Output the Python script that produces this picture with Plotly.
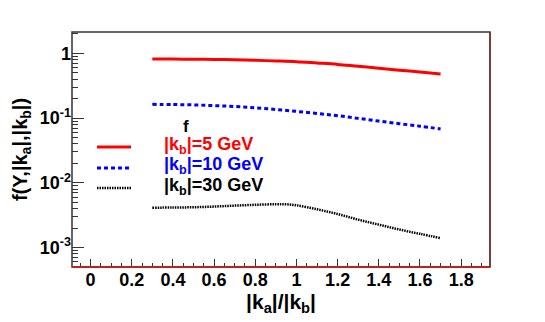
import plotly.graph_objects as go

x_vals = [0.3, 0.4, 0.5, 0.6, 0.7, 0.8, 0.9, 1.0, 1.1, 1.2, 1.3, 1.4, 1.5, 1.6, 1.7]
f_kb5 = [0.817, 0.815, 0.812, 0.806, 0.795, 0.78, 0.765, 0.745, 0.71, 0.675, 0.63, 0.59, 0.55, 0.515, 0.48]
f_kb10 = [0.163, 0.162, 0.160, 0.156, 0.151, 0.144, 0.136, 0.127, 0.118, 0.109, 0.099, 0.090, 0.082, 0.075, 0.068]
x_kb30 = [0.3, 0.4, 0.5, 0.6, 0.7, 0.8, 0.9, 0.95, 1.0, 1.1, 1.2, 1.3, 1.4, 1.5, 1.6, 1.7]
f_kb30 = [0.00414, 0.00415, 0.0042, 0.0043, 0.00445, 0.00458, 0.00468, 0.00466, 0.0045, 0.0039, 0.0033, 0.0027, 0.00226, 0.0019, 0.00163, 0.0014]

legend_labels = ["|k<sub>b</sub>|=5 GeV", "|k<sub>b</sub>|=10 GeV", "|k<sub>b</sub>|=30 GeV"]
colors = ["#ff0000", "#0000ff", "#000000"]
dashes = ["solid", "4px,3px", "1.5px,1px"]
widths = [3, 3, 2.5]

x_ticks = [0, 0.2, 0.4, 0.6, 0.8, 1, 1.2, 1.4, 1.6, 1.8]
x_ticktext = ["0", "0.2", "0.4", "0.6", "0.8", "1", "1.2", "1.4", "1.6", "1.8"]
y_ticks = [1, 0.1, 0.01, 0.001]
y_ticktext = ["1", "10<sup>-1</sup>", "10<sup>-2</sup>", "10<sup>-3</sup>"]
y_minor = [m * 10.0 ** e for e in range(-4, 1) for m in range(2, 10)]

FONT = "Liberation Sans, Arial, sans-serif"

fig = go.Figure()
series = [(x_vals, f_kb5), (x_vals, f_kb10), (x_kb30, f_kb30)]
for (xs, ys), c, d, w, name in zip(series, colors, dashes, widths, legend_labels):
    fig.add_trace(go.Scatter(x=xs, y=ys, mode="lines", name=name,
                             line=dict(color=c, dash=d, width=w, shape="spline", smoothing=1.0),
                             showlegend=False))

# page has an 8px body margin; layout is sized so the plot area lands where the reference has it
OFF = 8
W, H = 537, 314
L, R, T, B = 64, 55, 24, 55
PW, PH = W - L - R, H - T - B


def px(xp):
    return (xp - OFF - L) / PW


def py(yp):
    return (H - B - (yp - OFF)) / PH


leg_y = [147, 168, 188]
for ly, c, d, w, name in zip(leg_y, colors, dashes, widths, legend_labels):
    fig.add_shape(type="line", xref="paper", yref="paper",
                  x0=px(97), x1=px(131), y0=py(ly), y1=py(ly),
                  line=dict(color=c, dash=d, width=w))
    fig.add_annotation(xref="paper", yref="paper", x=px(162), y=py(ly - 2),
                       text=name, showarrow=False, xanchor="left", yanchor="middle",
                       font=dict(family=FONT, size=18, color=c, weight="bold"))

fig.add_annotation(xref="paper", yref="paper", x=px(186), y=py(126),
                   text="f", showarrow=False, xanchor="center", yanchor="middle",
                   font=dict(family=FONT, size=17, color="black", weight="bold"))

# frame
fig.add_shape(type="rect", xref="paper", yref="paper", x0=0, x1=1, y0=0, y1=1,
              line=dict(color="#333333", width=1.5), layer="above")
fig.add_shape(type="line", xref="paper", yref="paper", x0=0, x1=1, y0=0, y1=0,
              line=dict(color="#c02020", width=2), layer="above")
fig.add_shape(type="line", xref="paper", yref="paper", x0=1, x1=1, y0=0, y1=1,
              line=dict(color="#803030", width=1.5), layer="above")

fig.update_layout(
    width=W, height=H,
    margin=dict(l=L, r=R, t=T, b=B),
    paper_bgcolor="white", plot_bgcolor="white",
    font=dict(family=FONT, size=18, color="black"),
    xaxis=dict(range=[-0.09, 1.94], tickvals=x_ticks, ticktext=x_ticktext,
               ticks="inside", ticklen=8, tickwidth=1, tickcolor="#333",
               minor=dict(dtick=0.05, tick0=0, ticks="inside", ticklen=4, tickcolor="#333"),
               showgrid=False, zeroline=False, showline=False,
               tickfont=dict(family=FONT, size=18, weight="bold"),
               title=dict(text="|k<sub>a</sub>|/|k<sub>b</sub>|", standoff=0,
                          font=dict(family=FONT, size=21, weight="bold"))),
    yaxis=dict(type="log", range=[-3.3, 0.33], tickvals=y_ticks, ticktext=y_ticktext,
               ticks="inside", ticklen=12, tickwidth=1, tickcolor="#333",
               minor=dict(tickvals=y_minor, ticks="inside", ticklen=6, tickcolor="#333",
                          showgrid=False),
               showgrid=False, zeroline=False, showline=False,
               tickfont=dict(family=FONT, size=18, weight="bold"),
               title=dict(text="f(Y,|k<sub>a</sub>|,|k<sub>b</sub>|)", standoff=6,
                          font=dict(family=FONT, size=20, weight="bold"))),
)

fig.write_html("out.html")
